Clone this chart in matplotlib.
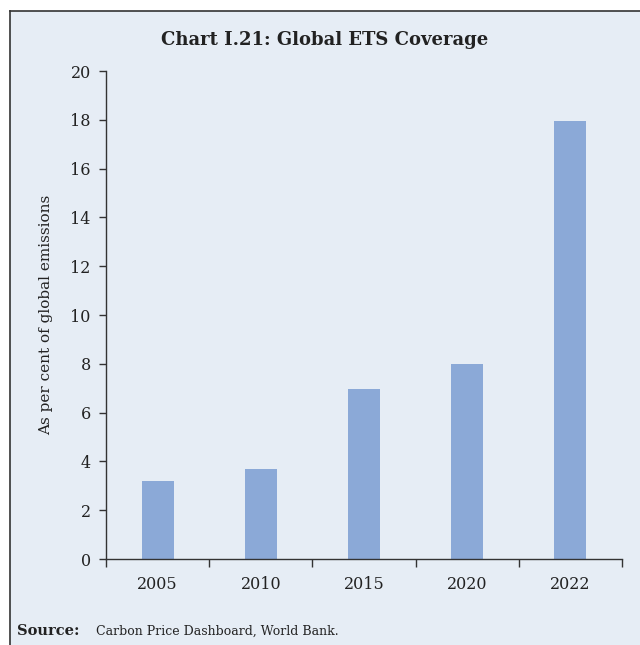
import numpy as np
import matplotlib as mpl
mpl.use('Agg')
import matplotlib.pyplot as plt
from matplotlib.lines import Line2D

years = ['2005', '2010', '2015', '2020', '2022']
coverage = [3.2, 3.7, 6.95, 8.0, 17.95]
yticks = np.arange(0, 21, 2)

bg = '#e6edf5'
bar_color = '#8ba9d7'
text_color = '#222222'

plt.rcParams['font.family'] = ['DejaVu Serif']

fig = plt.figure(figsize=(6.4, 6.45), dpi=100)
fig.patch.set_facecolor('white')

# panel background and frame (left + top edges, runs off the page)
fig.patches.append(mpl.patches.Rectangle((10 / 640, 0), 1, 1 - 11 / 645,
                                         transform=fig.transFigure,
                                         facecolor=bg, edgecolor='none', zorder=-10))
fig.lines.append(Line2D([10 / 640, 10 / 640], [0, 1 - 11 / 645],
                        transform=fig.transFigure, color='#333333', lw=1.2, zorder=-5))
fig.lines.append(Line2D([10 / 640, 1], [1 - 11 / 645, 1 - 11 / 645],
                        transform=fig.transFigure, color='#333333', lw=1.2, zorder=-5))

ax = fig.add_axes([106 / 640, 86 / 645, 516 / 640, 488 / 645])
ax.set_facecolor('none')

x = np.arange(len(years))
ax.bar(x, coverage, width=0.31, color=bar_color, zorder=2)

ax.set_xlim(-0.5, len(years) - 0.5)
ax.set_ylim(0, 20)
ax.set_yticks(yticks)
ax.set_yticklabels([str(v) for v in yticks], fontsize=11.5, color=text_color)

# category labels in the middle, ticks at boundaries
ax.set_xticks(x)
ax.set_xticklabels(years, fontsize=11.5, color=text_color)
ax.tick_params(axis='x', which='major', length=0, pad=12)
ax.set_xticks(np.arange(-0.5, len(years)), minor=True)
ax.tick_params(axis='x', which='minor', length=6, width=1, color='#333333', direction='out')
ax.tick_params(axis='y', length=5, width=1, color='#333333', direction='out', pad=6)

for s in ['top', 'right']:
    ax.spines[s].set_visible(False)
for s in ['left', 'bottom']:
    ax.spines[s].set_color('#333333')
    ax.spines[s].set_linewidth(1)

ax.set_ylabel('As per cent of global emissions', fontsize=11, color=text_color, labelpad=12)

fig.text(325 / 640, 1 - 40 / 645, 'Chart I.21: Global ETS Coverage',
         ha='center', va='center', fontsize=13, fontweight='bold', color=text_color)

fig.text(17 / 640, 1 - 631 / 645, 'Source:', ha='left', va='center',
         fontsize=10.5, fontweight='bold', color=text_color)
fig.text(96 / 640, 1 - 631 / 645, 'Carbon Price Dashboard, World Bank.', ha='left',
         va='center', fontsize=9, color=text_color)

plt.savefig('out.png', dpi=100, facecolor=fig.get_facecolor())
